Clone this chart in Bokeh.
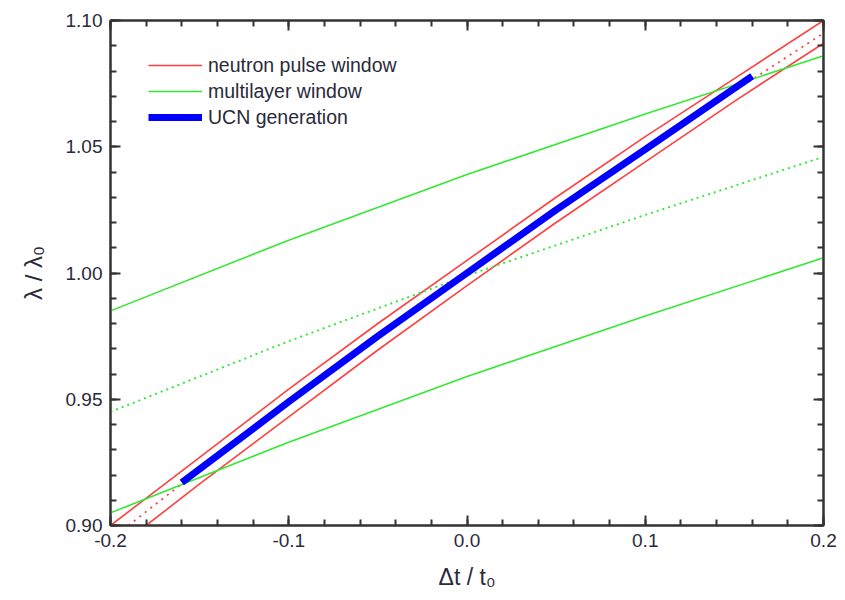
from bokeh.plotting import figure
from bokeh.models import (Range1d, FixedTicker, LinearAxis, NumeralTickFormatter,
                          Legend, LegendItem)
from bokeh.embed import file_html
from bokeh.resources import INLINE

# ---- data ----
red_upper_x = [-0.20, -0.15, -0.10, -0.05, 0.00, 0.05, 0.10, 0.15, 0.20]
red_upper_y = [0.900, 0.927, 0.954, 0.980, 1.005, 1.030, 1.054, 1.077, 1.100]

red_mid_x = [-0.19, -0.15, -0.10, -0.05, 0.00, 0.05, 0.10, 0.15, 0.20]
red_mid_y = [0.900, 0.922, 0.949, 0.975, 1.000, 1.025, 1.049, 1.072, 1.095]

red_lower_x = [-0.18, -0.15, -0.10, -0.05, 0.00, 0.05, 0.10, 0.15, 0.20]
red_lower_y = [0.900, 0.9165, 0.943, 0.9695, 0.995, 1.020, 1.044, 1.068, 1.091]

green_x = [-0.20, -0.10, 0.00, 0.10, 0.20]
green_upper_y = [0.985, 1.013, 1.039, 1.063, 1.086]
green_mid_y = [0.945, 0.973, 0.999, 1.023, 1.046]
green_lower_y = [0.905, 0.933, 0.959, 0.983, 1.006]

ucn_x = [-0.16, -0.10, -0.05, 0.00, 0.05, 0.10, 0.16]
ucn_y = [0.917, 0.949, 0.975, 1.000, 1.025, 1.049, 1.078]

x_major = [-0.2, -0.1, 0.0, 0.1, 0.2]
x_minor = [-0.2 + 0.02 * i for i in range(21)]
y_major = [0.90, 0.95, 1.00, 1.05, 1.10]
y_minor = [0.90 + 0.01 * i for i in range(21)]

FONT = "Liberation Sans"
RED = "#ff4040"
GREEN = "#33e833"
BLUE = "#0000ff"
AX = "#333333"
TXT = "#2a2a3a"

p = figure(width=845, height=600, output_backend="svg", toolbar_location=None,
           x_range=Range1d(-0.2, 0.2), y_range=Range1d(0.90, 1.10),
           x_axis_type=None, y_axis_type=None,
           min_border_left=110, min_border_right=22, min_border_top=20,
           min_border_bottom=75)
p.grid.visible = False
p.outline_line_color = AX
p.outline_line_width = 2
p.background_fill_color = "white"
p.border_fill_color = "white"

def style_axis(ax, ticks, minor, fmt, show_labels):
    ax.ticker = FixedTicker(ticks=ticks, minor_ticks=minor)
    ax.formatter = NumeralTickFormatter(format=fmt)
    ax.axis_line_color = AX
    ax.axis_line_width = 2
    ax.major_tick_line_color = AX
    ax.major_tick_line_width = 2
    ax.minor_tick_line_color = AX
    ax.minor_tick_line_width = 2
    ax.major_tick_in = 10
    ax.major_tick_out = 0
    ax.minor_tick_in = 6
    ax.minor_tick_out = 0
    ax.major_label_text_font = FONT
    ax.major_label_text_font_size = "19px"
    ax.major_label_text_color = TXT if show_labels else None
    ax.major_label_standoff = 8

xb = LinearAxis()
style_axis(xb, x_major, x_minor, "0.0", True)
xb.axis_label = "Δt / t₀"
xb.axis_label_text_font = FONT
xb.axis_label_text_font_size = "23px"
xb.axis_label_text_font_style = "normal"
xb.axis_label_text_color = TXT
xb.axis_label_standoff = 14
p.add_layout(xb, "below")

yl = LinearAxis()
style_axis(yl, y_major, y_minor, "0.00", True)
yl.axis_label = "λ / λ₀"
yl.axis_label_text_font = FONT
yl.axis_label_text_font_size = "24px"
yl.axis_label_text_font_style = "normal"
yl.axis_label_text_color = TXT
yl.axis_label_standoff = 16
p.add_layout(yl, "left")

xt = LinearAxis()
style_axis(xt, x_major, x_minor, "0.0", False)
xt.major_label_text_font_size = "0px"
p.add_layout(xt, "above")

yr = LinearAxis()
style_axis(yr, y_major, y_minor, "0.00", False)
yr.major_label_text_font_size = "0px"
p.add_layout(yr, "right")

r_red = p.line(red_upper_x, red_upper_y, line_color=RED, line_width=1.6)
p.line(red_lower_x, red_lower_y, line_color=RED, line_width=1.6)
p.line(red_mid_x, red_mid_y, line_color=RED, line_width=1.8, line_dash="2 5")

r_green = p.line(green_x, green_upper_y, line_color=GREEN, line_width=1.6)
p.line(green_x, green_lower_y, line_color=GREEN, line_width=1.6)
p.line(green_x, green_mid_y, line_color=GREEN, line_width=1.9, line_dash="2 4")

r_blue = p.line(ucn_x, ucn_y, line_color=BLUE, line_width=7)

legend = Legend(items=[
    LegendItem(label="neutron pulse window", renderers=[r_red]),
    LegendItem(label="multilayer window", renderers=[r_green]),
    LegendItem(label="UCN generation", renderers=[r_blue]),
], location=(38, 395))
legend.padding = 0
legend.spacing = 0
legend.margin = 0
legend.label_height = 26
legend.glyph_height = 26
legend.glyph_width = 54
legend.label_standoff = 6
legend.label_text_font = FONT
legend.label_text_font_size = "19.5px"
legend.label_text_color = TXT
legend.border_line_color = None
legend.background_fill_alpha = 0
p.add_layout(legend, "center")

open("out.html", "w").write(file_html(p, INLINE))
